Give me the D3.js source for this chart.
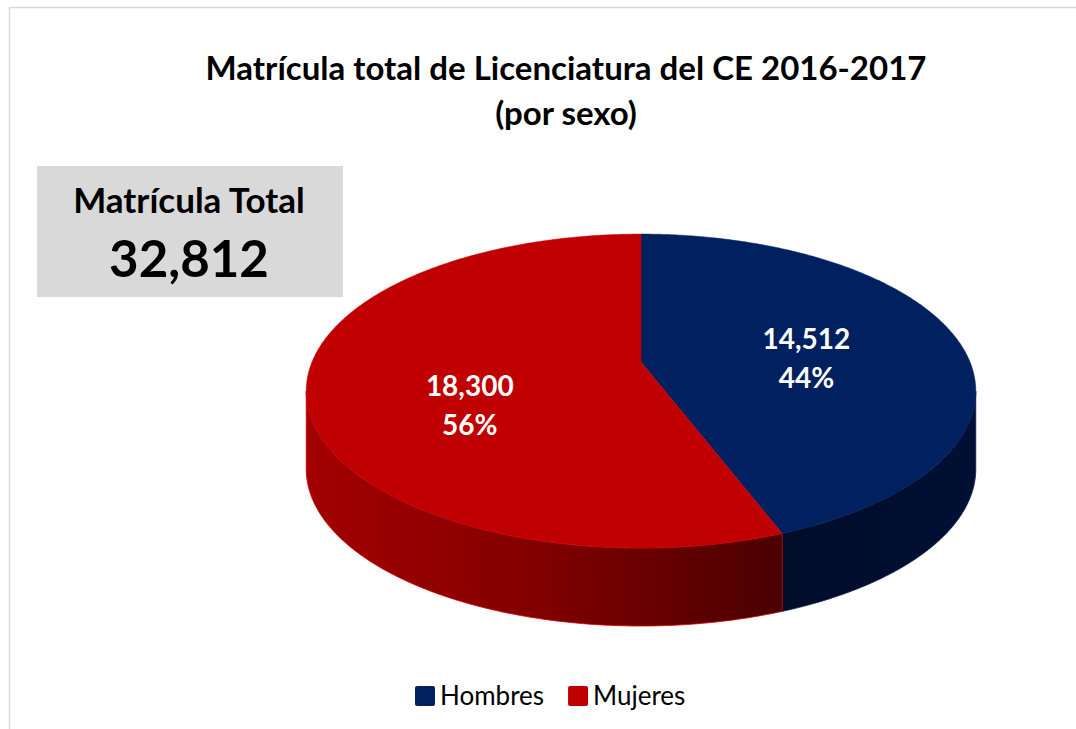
<!DOCTYPE html>
<html>
<head>
<meta charset="utf-8">
<script src="https://cdn.jsdelivr.net/npm/d3@7"></script>
<style>
  body { margin: 0; background: #fff; }
  text { font-family: Lato, "Open Sans", sans-serif; }
</style>
</head>
<body>
<svg width="1076" height="729"></svg>
<script>
var categories = ["Hombres", "Mujeres"];
var values = [14512, 18300];
var colors = ["#002060", "#c00000"];
var titleLines = ["Matrícula total de Licenciatura del CE 2016-2017", "(por sexo)"];
var totalLabel = "Matrícula Total";

var svg = d3.select("svg");
var width = +svg.attr("width");
var height = +svg.attr("height");

var total = d3.sum(values);
var fmt = d3.format(",");
var pct = d3.format(".0%");

// chart border
svg.append("rect")
    .attr("x", 9.5).attr("y", 7.5)
    .attr("width", width + 20).attr("height", height + 20)
    .attr("fill", "none")
    .attr("stroke", "#d9d9d9")
    .attr("stroke-width", 1.5);

// title
svg.append("g").selectAll("text")
    .data(titleLines)
    .enter().append("text")
    .attr("x", 566)
    .attr("y", function (d, i) { return 80 + i * 45; })
    .attr("text-anchor", "middle")
    .style("font-weight", "bold")
    .style("font-size", "33px")
    .attr("fill", "#000")
    .text(function (d) { return d; });

// total box
var box = svg.append("g");
box.append("rect")
    .attr("x", 37).attr("y", 166)
    .attr("width", 306).attr("height", 131)
    .attr("fill", "#d9d9d9");
box.append("text")
    .attr("x", 189).attr("y", 213)
    .attr("text-anchor", "middle")
    .style("font-weight", "bold")
    .style("font-size", "35px")
    .text(totalLabel);
box.append("text")
    .attr("x", 189).attr("y", 277)
    .attr("text-anchor", "middle")
    .style("font-weight", "bold")
    .style("font-size", "51px")
    .text(fmt(total));

// 3d pie: disk seen in perspective
var cx = 641, cy = 362, A = 329, B = 151.6, k = 0.185, depth = 78;

function proj(r, a, dz) {
    var u = r * Math.sin(a), w = -r * Math.cos(a);
    var s = 1 / (1 - k * w);
    return [cx + A * u * s, cy + B * w * s + (dz || 0)];
}

function arcPoints(a0, a1, dz) {
    var n = Math.max(2, Math.ceil((a1 - a0) / 0.01));
    return d3.range(n + 1).map(function (i) {
        return proj(1, a0 + (a1 - a0) * i / n, dz);
    });
}

var pie = d3.pie().sort(null).value(function (d) { return d; });
var arcs = pie(values);

// silhouette angles of the side wall
var aRight = Math.acos(-k);
var aLeft = 2 * Math.PI - aRight;

var defs = svg.append("defs");
var gRed = defs.append("linearGradient")
    .attr("id", "side1")
    .attr("gradientUnits", "userSpaceOnUse")
    .attr("x1", cx - A * 1.02).attr("x2", proj(1, arcs[1].startAngle)[0])
    .attr("y1", 0).attr("y2", 0);
gRed.append("stop").attr("offset", 0).attr("stop-color", "#a30000");
gRed.append("stop").attr("offset", 0.45).attr("stop-color", "#850000");
gRed.append("stop").attr("offset", 1).attr("stop-color", "#4a0000");
var gBlue = defs.append("linearGradient")
    .attr("id", "side0")
    .attr("gradientUnits", "userSpaceOnUse")
    .attr("x1", proj(1, arcs[0].endAngle)[0]).attr("x2", cx + A * 1.02)
    .attr("y1", 0).attr("y2", 0);
gBlue.append("stop").attr("offset", 0).attr("stop-color", "#000c28");
gBlue.append("stop").attr("offset", 1).attr("stop-color", "#001034");

var line = d3.line();

var sides = svg.append("g").attr("class", "sides");
arcs.forEach(function (d, i) {
    var s0 = Math.max(d.startAngle, aRight);
    var s1 = Math.min(d.endAngle, aLeft);
    if (s0 >= s1) return;
    var pts = arcPoints(s0, s1, 0).concat(arcPoints(s0, s1, depth).reverse());
    sides.append("path")
        .attr("d", line(pts) + "Z")
        .attr("fill", "url(#side" + i + ")")
        .attr("stroke", i === 1 ? "#d40000" : "#0a1f55")
        .attr("stroke-width", 0.8);
});

var tops = svg.append("g").attr("class", "tops");
tops.selectAll("path")
    .data(arcs)
    .enter().append("path")
    .attr("d", function (d) {
        var pts = [proj(0, 0)].concat(arcPoints(d.startAngle, d.endAngle, 0));
        return line(pts) + "Z";
    })
    .attr("fill", function (d, i) { return colors[i]; })
    .attr("stroke", function (d, i) { return colors[i]; })
    .attr("stroke-width", 0.5);

// data labels
var labels = svg.append("g").selectAll("g")
    .data(arcs)
    .enter().append("g")
    .attr("transform", function (d) {
        var mid = (d.startAngle + d.endAngle) / 2;
        var px = proj(0.52, mid)[0];
        var py = proj(0.85, mid)[1];
        return "translate(" + px + "," + (py + 20) + ")";
    });
labels.append("text")
    .attr("y", -10)
    .attr("text-anchor", "middle")
    .attr("fill", "#fff")
    .style("font-weight", "bold")
    .style("font-size", "28px")
    .text(function (d) { return fmt(d.value); });
labels.append("text")
    .attr("y", 29)
    .attr("text-anchor", "middle")
    .attr("fill", "#fff")
    .style("font-weight", "bold")
    .style("font-size", "28px")
    .text(function (d) { return pct(d.value / total); });

// legend
var legend = svg.append("g").attr("transform", "translate(415,686)");
var lx = 0;
categories.forEach(function (c, i) {
    var item = legend.append("g").attr("transform", "translate(" + lx + ",0)");
    item.append("rect")
        .attr("width", 20).attr("height", 20)
        .attr("rx", 2)
        .attr("fill", colors[i]);
    var t = item.append("text")
        .attr("x", 25).attr("y", 19)
        .style("font-size", "26px")
        .attr("fill", "#000")
        .text(c);
    lx += 25 + t.node().getComputedTextLength() + 24;
});
</script>
</body>
</html>
